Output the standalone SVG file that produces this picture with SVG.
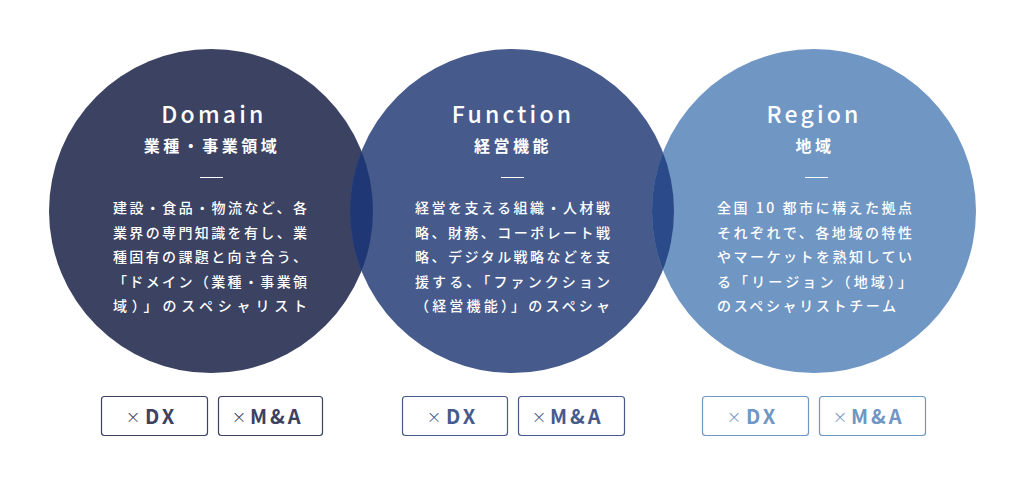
<svg xmlns="http://www.w3.org/2000/svg" width="1024" height="488" viewBox="0 0 1024 488">
<style>
.title{font-family:"Noto Sans CJK JP","Noto Sans",sans-serif;font-weight:500;font-size:23px;letter-spacing:3.2px;fill:#fff;text-anchor:middle}
.sub{font-family:"Noto Sans CJK JP",sans-serif;font-weight:700;font-size:16px;letter-spacing:3.5px;fill:#fff;text-anchor:middle}
.body{font-family:"Noto Sans CJK JP",sans-serif;font-weight:500;font-size:14px;fill:#fff}
.rule{stroke:#fff;stroke-width:1}
.tag{fill:#fff;stroke-width:1.2}
.x{font-family:"DejaVu Sans","Noto Sans",sans-serif;font-weight:200;font-size:18px}
.tt{font-family:"Noto Sans CJK JP","Noto Sans",sans-serif;font-weight:700;font-size:20px;letter-spacing:3px}
</style>
<defs>
<clipPath id="cF"><circle cx="512" cy="211" r="162"/></clipPath>
</defs>
<rect width="1024" height="488" fill="#fff"/>
<g id="domain">
<circle cx="211" cy="211" r="162" fill="#3b4262"/>
</g>
<g id="function">
<circle cx="512" cy="211" r="162" fill="#465b8c"/>
</g>
<g id="region">
<circle cx="814" cy="211" r="162" fill="#7096c4"/>
</g>
<g id="overlaps" clip-path="url(#cF)">
<circle cx="211" cy="211" r="162" fill="#1f3875"/>
<circle cx="814" cy="211" r="162" fill="#2a4a89"/>
</g>
<g id="domain-text">
<text class="title" x="214" y="123">Domain</text>
<text class="sub" x="212" y="152">業種・事業領域</text>
<line class="rule" x1="200" y1="177.5" x2="223" y2="177.5"/>
<text class="body" x="113" y="213" textLength="194" lengthAdjust="spacing">建設・食品・物流など、各</text>
<text class="body" x="113" y="237.5" textLength="194" lengthAdjust="spacing">業界の専門知識を有し、業</text>
<text class="body" x="113" y="262" textLength="194" lengthAdjust="spacing">種固有の課題と向き合う、</text>
<text class="body" x="113" y="286.5" textLength="194" lengthAdjust="spacing">「ドメイン（業種・事業領</text>
<text class="body" x="113" y="311" textLength="194" lengthAdjust="spacing">域）」のスペシャリスト</text>
</g>
<g id="function-text">
<text class="title" x="513" y="123">Function</text>
<text class="sub" x="513" y="152">経営機能</text>
<line class="rule" x1="501" y1="177.5" x2="524" y2="177.5"/>
<text class="body" x="415" y="213" textLength="195" lengthAdjust="spacing">経営を支える組織・人材戦</text>
<text class="body" x="415" y="237.5" textLength="195" lengthAdjust="spacing">略、財務、コーポレート戦</text>
<text class="body" x="415" y="262" textLength="195" lengthAdjust="spacing">略、デジタル戦略などを支</text>
<text class="body" x="415" y="286.5" textLength="195" lengthAdjust="spacing">援する、「ファンクション</text>
<text class="body" x="415" y="311" textLength="195" lengthAdjust="spacing">（経営機能）」のスペシャ</text>
</g>
<g id="region-text">
<text class="title" x="814" y="123">Region</text>
<text class="sub" x="815" y="152">地域</text>
<line class="rule" x1="805" y1="177.5" x2="828" y2="177.5"/>
<text class="body" x="717" y="213" textLength="195" lengthAdjust="spacing">全国 10 都市に構えた拠点</text>
<text class="body" x="717" y="237.5" textLength="195" lengthAdjust="spacing">それぞれで、各地域の特性</text>
<text class="body" x="717" y="262" textLength="195" lengthAdjust="spacing">やマーケットを熟知してい</text>
<text class="body" x="717" y="286.5" textLength="195" lengthAdjust="spacing">る「リージョン（地域）」</text>
<text class="body" x="717" y="311" textLength="179" lengthAdjust="spacing">のスペシャリストチーム</text>
</g>
<g id="tags-domain">
<rect class="tag" x="101.5" y="396.5" width="106" height="39" rx="3" stroke="#3b4262"/>
<text class="x" x="125.5" y="423" fill="#3b4262">×</text><text class="tt" x="145" y="424" fill="#3b4262">DX</text>
<rect class="tag" x="218.5" y="396.5" width="104" height="39" rx="3" stroke="#3b4262"/>
<text class="x" x="231.5" y="423" fill="#3b4262">×</text><text class="tt" x="250" y="424" fill="#3b4262">M&amp;A</text>
</g>
<g id="tags-function">
<rect class="tag" x="402.5" y="396.5" width="105" height="39" rx="3" stroke="#465b8c"/>
<text class="x" x="426.5" y="423" fill="#465b8c">×</text><text class="tt" x="446" y="424" fill="#465b8c">DX</text>
<rect class="tag" x="518.5" y="396.5" width="106" height="39" rx="3" stroke="#465b8c"/>
<text class="x" x="531.5" y="423" fill="#465b8c">×</text><text class="tt" x="550" y="424" fill="#465b8c">M&amp;A</text>
</g>
<g id="tags-region">
<rect class="tag" x="702.5" y="396.5" width="106" height="39" rx="3" stroke="#7096c4"/>
<text class="x" x="726.5" y="423" fill="#7096c4">×</text><text class="tt" x="746" y="424" fill="#7096c4">DX</text>
<rect class="tag" x="819.5" y="396.5" width="106" height="39" rx="3" stroke="#7096c4"/>
<text class="x" x="832.5" y="423" fill="#7096c4">×</text><text class="tt" x="851" y="424" fill="#7096c4">M&amp;A</text>
</g>
</svg>
